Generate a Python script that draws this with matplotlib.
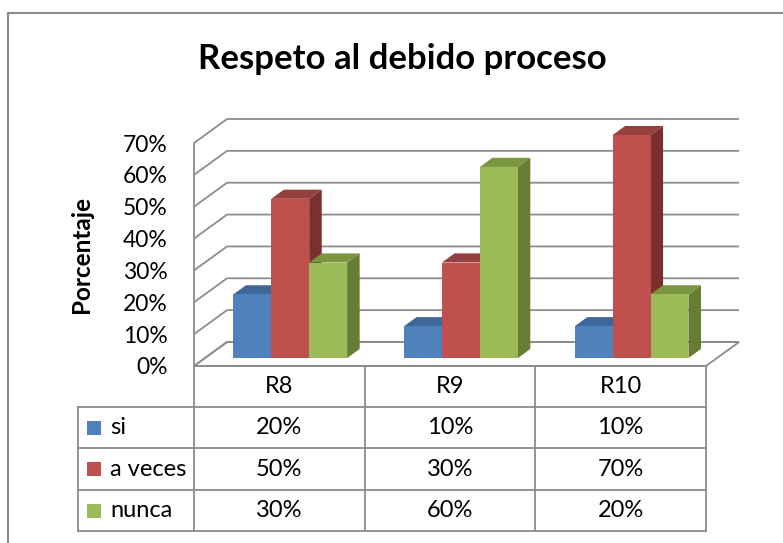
import matplotlib.pyplot as plt
from matplotlib.lines import Line2D

# data
categories = ["R8", "R9", "R10"]
series_names = ["si", "a veces", "nunca"]
si = [0.20, 0.10, 0.10]
a_veces = [0.50, 0.30, 0.70]
nunca = [0.30, 0.60, 0.20]
y_ticks = [0.0, 0.1, 0.2, 0.3, 0.4, 0.5, 0.6, 0.7]

FRONT = ["#4F81BD", "#C0504D", "#9BBB59"]
TOP = ["#3D6899", "#94403E", "#7A963F"]
SIDE = ["#365C88", "#7C302E", "#667D33"]
GRID = "#8C8C8C"
FONT = "Lato"

W_PX, H_PX = 783, 543
# front plane of the 3d box, in pixels
X0, X1 = 194, 706
Y_FLOOR, Y_TOP = 366, 143
# full depth of the box, in pixels
DEPTH_PX = (33, 24)


def px_to_fig(x, y):
    return x / W_PX, 1 - y / H_PX


def main():
    fig = plt.figure(figsize=(W_PX / 100, H_PX / 100), dpi=100)
    fl, fb = px_to_fig(X0, Y_FLOOR)
    fr, ft = px_to_fig(X1, Y_TOP)
    ax = fig.add_axes([fl, fb, fr - fl, ft - fb])
    n = len(categories)
    ax.set_xlim(-0.5, n - 0.5)
    ax.set_ylim(0, y_ticks[-1])
    for s in ax.spines.values():
        s.set_visible(False)
    ax.set_xticks([])
    ax.patch.set_alpha(0)

    # depth in data units
    ddx = DEPTH_PX[0] / (X1 - X0) * n
    ddy = DEPTH_PX[1] / (Y_FLOOR - Y_TOP) * y_ticks[-1]
    lw = 1.3
    xl, xr = -0.5, n - 0.5

    # floor
    ax.fill([xl, xr, xr + ddx, xl + ddx], [0, 0, ddy, ddy], facecolor="white",
            edgecolor=GRID, lw=lw, clip_on=False, zorder=1)
    # walls / gridlines
    for v in y_ticks:
        ax.plot([xl, xl + ddx, xr + ddx], [v, v + ddy, v + ddy], color=GRID, lw=lw,
                clip_on=False, zorder=1, solid_capstyle="butt")
    ax.plot([xl, xl], [0, y_ticks[-1]], color=GRID, lw=lw, clip_on=False, zorder=1)

    # bars
    series = [si, a_veces, nunca]
    bw = 1 / (len(series) + 1.5)
    d0, d1 = 0.33, 0.71
    z = 2
    for ci in range(n):
        for si_, vals in enumerate(series):
            left = ci - 1.5 * bw + si_ * bw + d0 * ddx
            base = d0 * ddy
            h = vals[ci]
            bdx, bdy = (d1 - d0) * ddx, (d1 - d0) * ddy
            # side
            ax.fill([left + bw, left + bw + bdx, left + bw + bdx, left + bw],
                    [base, base + bdy, base + h + bdy, base + h],
                    color=SIDE[si_], lw=0, clip_on=False, zorder=z)
            # top
            ax.fill([left, left + bw, left + bw + bdx, left + bdx],
                    [base + h, base + h, base + h + bdy, base + h + bdy],
                    color=TOP[si_], lw=0, clip_on=False, zorder=z)
            ax.bar(left, h, width=bw, bottom=base, align="edge", color=FRONT[si_],
                   lw=0, clip_on=False, zorder=z + 0.5)
            z += 1

    # y axis ticks
    ax.set_yticks(y_ticks)
    ax.set_yticklabels([f"{int(round(v * 100))}%" for v in y_ticks], fontfamily=FONT,
                       fontsize=16.5)
    ax.tick_params(axis="y", length=0, pad=19)
    ax.set_ylabel("Porcentaje", fontfamily=FONT, fontsize=17.5, fontweight="bold")
    ax.yaxis.set_label_coords((93 - X0) / (X1 - X0), 0.5)

    # data table below the floor
    trans = ax.get_xaxis_transform()
    ax_h = Y_FLOOR - Y_TOP
    rows_px = [366, 407, 448, 490, 531]
    rows = [(Y_FLOOR - r) / ax_h for r in rows_px]
    tab_left = (78 - X0) / (X1 - X0) * n - 0.5
    bounds = [xl + i for i in range(n + 1)]
    tkw = dict(color=GRID, lw=lw, transform=trans, clip_on=False, zorder=1)
    ax.add_line(Line2D([xl, xr], [rows[0]] * 2, **tkw))
    for r in rows[1:]:
        ax.add_line(Line2D([tab_left, xr], [r, r], **tkw))
    for b in bounds:
        ax.add_line(Line2D([b, b], [rows[0], rows[-1]], **tkw))
    ax.add_line(Line2D([tab_left, tab_left], [rows[1], rows[-1]], **tkw))

    txt = dict(fontfamily=FONT, fontsize=17, transform=trans, va="center",
               clip_on=False)
    for ci, cat in enumerate(categories):
        ax.text(ci, (rows[0] + rows[1]) / 2, cat, ha="center", **txt)
    key_w = 14 / (X1 - X0) * n
    key_h = 14 / ax_h
    key_x = (87 - X0) / (X1 - X0) * n - 0.5
    lab_x = (110 - X0) / (X1 - X0) * n - 0.5
    for si_, (name, vals) in enumerate(zip(series_names, series)):
        ym = (rows[si_ + 1] + rows[si_ + 2]) / 2
        ax.fill([key_x, key_x + key_w, key_x + key_w, key_x],
                [ym - key_h / 2, ym - key_h / 2, ym + key_h / 2, ym + key_h / 2],
                color=FRONT[si_], transform=trans, clip_on=False, lw=0)
        ax.text(lab_x, ym, name, ha="left", **txt)
        for ci, v in enumerate(vals):
            ax.text(ci, ym, f"{int(round(v * 100))}%", ha="center", **txt)

    # title
    tx, ty = px_to_fig(402, 59)
    fig.text(tx, ty, "Respeto al debido proceso", ha="center", va="center",
             fontfamily=FONT, fontsize=25, fontweight="bold")

    # chart border (runs off the right and bottom edges)
    bx, by = px_to_fig(8, 13)
    fig.add_artist(Line2D([bx, bx], [by, 0], color=GRID, lw=1.5, transform=fig.transFigure))
    fig.add_artist(Line2D([bx, 1], [by, by], color=GRID, lw=1.5, transform=fig.transFigure))

    fig.savefig("out.png", dpi=100)


if __name__ == "__main__":
    main()
